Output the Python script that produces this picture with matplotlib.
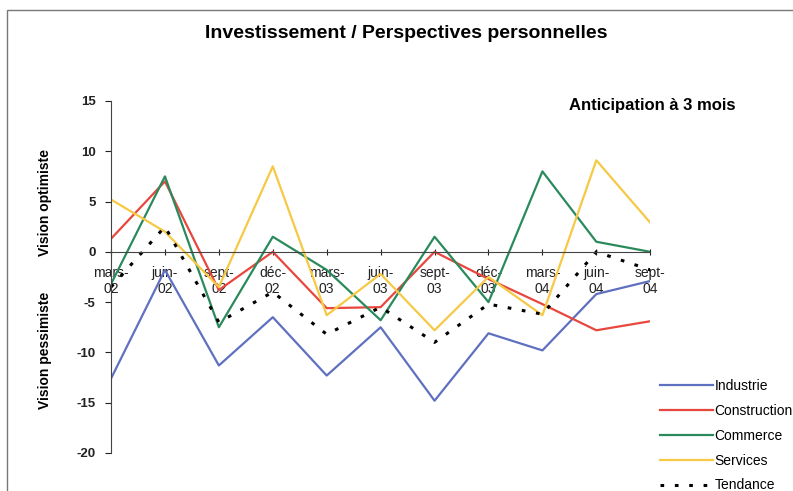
import numpy as np
import matplotlib.pyplot as plt
from matplotlib.patches import Rectangle

plt.rcParams['font.family'] = ['Liberation Sans', 'DejaVu Sans']

# --- données ---
mois = ["mars-\n02", "juin-\n02", "sept-\n02", "déc-\n02", "mars-\n03", "juin-\n03",
        "sept-\n03", "déc-\n03", "mars-\n04", "juin-\n04", "sept-\n04"]
industrie = [-12.6, -1.8, -11.3, -6.5, -12.3, -7.5, -14.8, -8.1, -9.8, -4.2, -2.9]
construction = [1.3, 7.0, -3.8, 0.0, -5.6, -5.5, 0.0, -2.7, -5.2, -7.8, -6.9]
commerce = [-3.2, 7.5, -7.5, 1.5, -1.8, -6.8, 1.5, -5.0, 8.0, 1.0, 0.0]
services = [5.2, 2.0, -3.5, 8.5, -6.3, -2.2, -7.8, -2.5, -6.3, 9.1, 2.9]
tendance = [-3.5, 2.5, -7.0, -4.0, -8.2, -5.5, -9.0, -5.2, -6.2, 0.0, -1.8]
yticks = [15, 10, 5, 0, -5, -10, -15, -20]

series = [
    ("Industrie", industrie, "#6070c0"),
    ("Construction", construction, "#e8473e"),
    ("Commerce", commerce, "#2b8a5c"),
    ("Services", services, "#f6c945"),
]

fig = plt.figure(figsize=(7.93, 4.91), dpi=100)
ax = fig.add_axes([0.140, 0.0774, 0.680, 0.717])

x = np.arange(len(mois))
for nom, vals, col in series:
    ax.plot(x, vals, color=col, lw=1.6, label=nom)
ax.plot(x, tendance, color="black", lw=2.2, ls=(0, (1.2, 3.5)), label="Tendance")

ax.set_xlim(0, len(mois) - 1)
ax.set_ylim(-20, 15)
ax.set_yticks(yticks)
ax.set_yticklabels([str(v) for v in yticks], fontsize=9.5, fontweight="bold")
ax.set_xticks(x)
ax.set_xticklabels(mois, fontsize=9, linespacing=1.7)

for s in ["top", "right"]:
    ax.spines[s].set_visible(False)
ax.spines["bottom"].set_position(("data", 0))
ax.spines["bottom"].set_color("#444444")
ax.spines["left"].set_color("#444444")
ax.tick_params(axis="y", direction="out", length=4, pad=7, colors="#222222")
ax.tick_params(axis="x", direction="inout", length=4, pad=8, colors="#222222")

fig.text(0.512, 0.931, "Investissement / Perspectives personnelles",
         ha="center", va="center", fontsize=14, fontweight="bold")
fig.text(0.822, 0.786, "Anticipation à 3 mois", ha="center", va="center",
         fontsize=12, fontweight="bold")
fig.text(0.057, 0.587, "Vision optimiste", rotation=90, ha="center", va="center",
         fontsize=10, fontweight="bold")
fig.text(0.057, 0.287, "Vision pessimiste", rotation=90, ha="center", va="center",
         fontsize=10, fontweight="bold")

fig.legend(loc="upper left", bbox_to_anchor=(0.832, 0.228), frameon=False,
           fontsize=10, handlelength=3.8, labelspacing=0.78, handletextpad=0.15,
           borderaxespad=0, borderpad=0)

# cadre du graphique
fig.patches.append(Rectangle((7 / 793, -0.1), 1.2, 1.1 - 10 / 491,
                             transform=fig.transFigure, fill=False,
                             edgecolor="#777777", lw=1))

fig.savefig("out.png", dpi=100)
